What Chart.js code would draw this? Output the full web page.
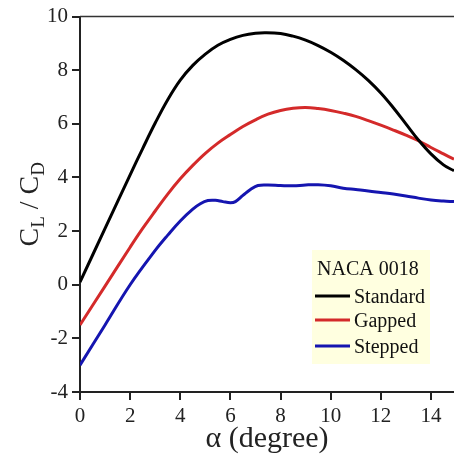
<!DOCTYPE html>
<html>
<head>
<meta charset="utf-8">
<script src="https://cdn.jsdelivr.net/npm/chart.js@4.4.1/dist/chart.umd.min.js"></script>
<style>
html,body{margin:0;padding:0;background:#fff;}
#c{display:block;}
</style>
</head>
<body>
<canvas id="c" width="454" height="454"></canvas>
<script>
// ---- data ----
const xTicks = [0, 2, 4, 6, 8, 10, 12, 14];
const yTicks = [-4, -2, 0, 2, 4, 6, 8, 10];

const seriesNames = ["Standard", "Gapped", "Stepped"];
const legendTitle = "NACA 0018";
const xTitle = "α (degree)";

const stdAlpha = [0, 1, 2, 2.5, 3, 3.5, 4, 4.5, 5, 5.5, 6, 6.5, 7, 7.4, 8, 8.5, 9, 9.5, 10, 10.5, 11, 11.5, 12, 12.5, 13, 13.5, 14, 14.5, 14.92];
const stdCLCD  = [0.1, 2.1, 4.1, 5.08, 6.03, 6.9, 7.63, 8.18, 8.6, 8.93, 9.15, 9.3, 9.38, 9.4, 9.37, 9.27, 9.12, 8.92, 8.67, 8.37, 8.02, 7.62, 7.15, 6.6, 6.0, 5.4, 4.88, 4.47, 4.25];

const gapAlpha = [0, 1, 2, 2.5, 3, 3.5, 4, 4.5, 5, 5.5, 6, 6.5, 7, 7.5, 8, 8.5, 9, 9.5, 10, 10.5, 11, 11.5, 12, 12.5, 13, 13.5, 14, 14.5, 14.92];
const gapCLCD  = [-1.5, -0.05, 1.4, 2.1, 2.75, 3.38, 3.95, 4.45, 4.9, 5.28, 5.6, 5.9, 6.15, 6.36, 6.5, 6.58, 6.61, 6.57, 6.5, 6.4, 6.28, 6.12, 5.95, 5.77, 5.58, 5.37, 5.12, 4.88, 4.68];

const stepAlpha = [0, 1, 2, 3, 3.5, 4, 4.5, 4.8, 5.1, 5.4, 5.7, 6.0, 6.2, 6.5, 6.8, 7.1, 7.5, 8, 8.5, 9, 9.5, 10, 10.5, 11, 11.5, 12, 12.5, 13, 13.5, 14, 14.5, 14.92];
const stepCLCD  = [-3.0, -1.5, 0.0, 1.28, 1.85, 2.38, 2.82, 3.02, 3.14, 3.15, 3.1, 3.06, 3.1, 3.33, 3.55, 3.7, 3.72, 3.7, 3.69, 3.72, 3.73, 3.69, 3.6, 3.55, 3.5, 3.44, 3.38, 3.31, 3.23, 3.16, 3.12, 3.1];

// ---- build ----
const colors = ["#000000", "#d42a2a", "#1515b0"];
const FONT = "'Liberation Serif', 'Times New Roman', serif";
const toPts = (xs, ys) => xs.map((x, i) => ({x: x, y: ys[i]}));

const datasets = [
  {label: seriesNames[0], data: toPts(stdAlpha, stdCLCD)},
  {label: seriesNames[1], data: toPts(gapAlpha, gapCLCD)},
  {label: seriesNames[2], data: toPts(stepAlpha, stepCLCD)}
].map((d, i) => Object.assign(d, {
  borderColor: colors[i], backgroundColor: colors[i], borderWidth: 3,
  pointRadius: 0, fill: false, tension: 0.4
}));

const decor = {
  id: 'decor',
  afterDraw(chart) {
    const ctx = chart.ctx, a = chart.chartArea;
    ctx.save();
    // top frame line
    ctx.strokeStyle = '#333';
    ctx.lineWidth = 1.5;
    ctx.beginPath();
    ctx.moveTo(a.left, a.top);
    ctx.lineTo(a.right, a.top);
    ctx.stroke();

    // x title
    ctx.fillStyle = '#222';
    ctx.font = "30px " + FONT;
    ctx.textAlign = 'center';
    ctx.textBaseline = 'alphabetic';
    ctx.fillText(xTitle, (a.left + a.right) / 2, 447);

    // y title with subscripts: C_L / C_D
    ctx.save();
    ctx.translate(38, (a.top + a.bottom) / 2);
    ctx.rotate(-Math.PI / 2);
    const big = "28px " + FONT, small = "19px " + FONT;
    const parts = [["C", big, 0], ["L", small, 6], [" / ", big, 0], ["C", big, 0], ["D", small, 6]];
    let total = 0;
    parts.forEach(p => { ctx.font = p[1]; total += ctx.measureText(p[0]).width; });
    let x = -total / 2;
    ctx.textAlign = 'left';
    parts.forEach(p => {
      ctx.font = p[1];
      ctx.fillText(p[0], x, p[2]);
      x += ctx.measureText(p[0]).width;
    });
    ctx.restore();

    // legend
    const lx = 312, ly = 250, lw = 118, lh = 114;
    ctx.fillStyle = '#ffffe0';
    ctx.fillRect(lx, ly, lw, lh);
    ctx.fillStyle = '#111';
    ctx.font = "20px " + FONT;
    ctx.textAlign = 'left';
    ctx.fillText(legendTitle, 317, 275);
    const rows = [296, 320, 346];
    chart.data.datasets.forEach((ds, i) => {
      ctx.strokeStyle = ds.borderColor;
      ctx.lineWidth = 3;
      ctx.beginPath();
      ctx.moveTo(315, rows[i]);
      ctx.lineTo(350, rows[i]);
      ctx.stroke();
      ctx.fillStyle = '#111';
      ctx.fillText(ds.label, 354, rows[i] + 7);
    });
    ctx.restore();
  }
};

new Chart(document.getElementById('c'), {
  type: 'line',
  data: {datasets: datasets},
  options: {
    responsive: false,
    devicePixelRatio: 1,
    animation: false,
    layout: {padding: {top: 16, left: 0, right: 0, bottom: 0}},
    plugins: {legend: {display: false}, tooltip: {enabled: false}},
    scales: {
      x: {
        type: 'linear', min: 0, max: 14.92,
        afterFit: s => { s.height = 62; },
        afterBuildTicks: s => { s.ticks = xTicks.map(v => ({value: v})); },
        ticks: {font: {family: FONT, size: 21}, color: '#222', padding: 4, maxRotation: 0, includeBounds: false},
        grid: {drawOnChartArea: false, tickLength: 8, color: '#222', lineWidth: 2},
        border: {color: '#222', width: 2}
      },
      y: {
        type: 'linear', min: -4, max: 10,
        afterFit: s => { s.width = 80; },
        afterBuildTicks: s => { s.ticks = yTicks.map(v => ({value: v})); },
        ticks: {font: {family: FONT, size: 21}, color: '#222', padding: 4},
        grid: {drawOnChartArea: false, tickLength: 8, color: '#222', lineWidth: 2},
        border: {color: '#222', width: 2}
      }
    }
  },
  plugins: [decor]
});
</script>
</body>
</html>
